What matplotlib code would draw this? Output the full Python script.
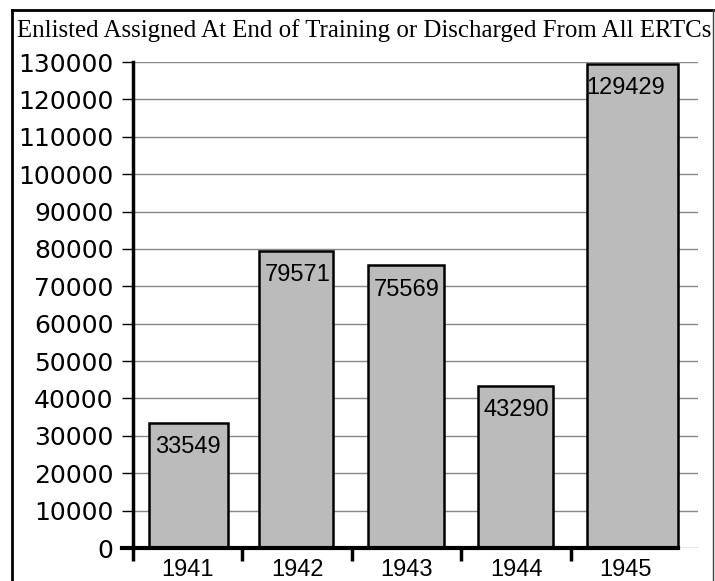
import matplotlib
matplotlib.use("Agg")
import matplotlib.pyplot as plt
from matplotlib.lines import Line2D

# data
years = ["1941", "1942", "1943", "1944", "1945"]
values = [33549, 79571, 75569, 43290, 129429]
bar_widths = [0.72, 0.68, 0.69, 0.69, 0.83]
yticks = list(range(0, 130001, 10000))

fig = plt.figure(figsize=(7.15, 5.81), dpi=100)
ax = fig.add_axes([133 / 715, 33 / 581, 565 / 715, 486 / 581])

x = list(range(len(years)))
ax.bar([i - 0.35 for i in x], values, width=bar_widths, align="edge",
       color="#bbbbbb", edgecolor="black", linewidth=1.8, zorder=3)

for i, v in zip(x, values):
    ax.annotate(str(v), (i, v), xytext=(0, -9.5), textcoords="offset points",
                ha="center", va="top", fontsize=17, family="Liberation Sans",
                zorder=4)

ax.set_ylim(0, 130000)
ax.set_xlim(-0.5, 4.66)
ax.set_yticks(yticks)
ax.set_yticklabels([str(t) for t in yticks], family="DejaVu Sans", fontsize=18)
ax.yaxis.grid(True, color="#888888", linewidth=1.0, zorder=0)
ax.tick_params(axis="y", length=8, width=1, pad=6)

# labels at centres, tick marks at boundaries
ax.set_xticks(x)
ax.set_xticklabels(years, family="Liberation Sans", fontsize=17)
ax.set_xticks([-0.5, 0.5, 1.5, 2.5, 3.5], minor=True)
ax.tick_params(axis="x", which="major", length=0, pad=8)
ax.tick_params(axis="x", which="minor", length=9, width=2.5, direction="out")

for s in ["top", "right"]:
    ax.spines[s].set_visible(False)
ax.spines["left"].set_linewidth(2.5)
ax.spines["bottom"].set_linewidth(3)
ax.spines["bottom"].set_bounds(-0.6, 4.48)
ax.spines["bottom"].set_zorder(5)

fig.text(364 / 715, 1 - 31 / 581,
         "Enlisted Assigned At End of Training or Discharged From All ERTCs",
         ha="center", va="center", family="Liberation Serif", fontsize=17.9)

# outer frame
fig.add_artist(Line2D([12 / 715, 12 / 715], [0, 1 - 10 / 581],
                      transform=fig.transFigure, color="black", linewidth=2))
fig.add_artist(Line2D([12 / 715, 713 / 715], [1 - 10 / 581, 1 - 10 / 581],
                      transform=fig.transFigure, color="black", linewidth=2))
fig.add_artist(Line2D([713 / 715, 713 / 715], [0, 1 - 10 / 581],
                      transform=fig.transFigure, color="#444444", linewidth=1))

fig.savefig("out.png", dpi=100)
